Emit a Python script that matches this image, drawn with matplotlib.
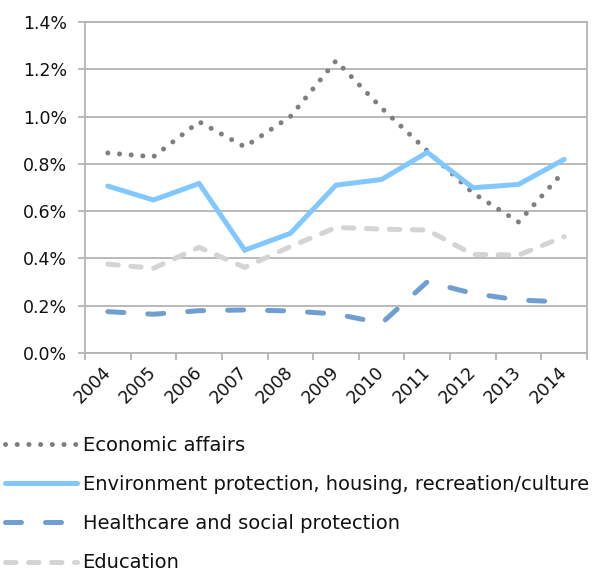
import matplotlib
matplotlib.use("Agg")
import matplotlib.pyplot as plt
from matplotlib.ticker import FixedLocator, FuncFormatter

years = ["2004", "2005", "2006", "2007", "2008", "2009", "2010", "2011", "2012", "2013", "2014"]
economic = [0.846, 0.830, 0.978, 0.872, 1.000, 1.236, 1.036, 0.855, 0.677, 0.554, 0.770]
environment = [0.706, 0.647, 0.717, 0.435, 0.506, 0.710, 0.734, 0.849, 0.699, 0.713, 0.819]
healthcare = [0.175, 0.164, 0.179, 0.182, 0.178, 0.165, 0.126, 0.301, 0.252, 0.224, 0.216]
education = [0.376, 0.358, 0.447, 0.362, 0.450, 0.531, 0.524, 0.520, 0.417, 0.414, 0.492]
labels = ["Economic affairs", "Environment protection, housing, recreation/culture",
          "Healthcare and social protection", "Education"]

plt.rcParams['font.family'] = ['DejaVu Sans']
fig = plt.figure(figsize=(5.94, 5.71), dpi=100)
ax = fig.add_axes([85/594, 1-353/571, (587-85)/594, (353-22)/571])

x = list(range(len(years)))
l1, = ax.plot(x, economic, color='#7f7f7f', lw=3.6, linestyle=(0, (0.01, 2.33)),
              dash_capstyle='round', solid_capstyle='round')
l2, = ax.plot(x, environment, color='#80c8ff', lw=3.6, solid_joinstyle='miter',
              solid_capstyle='round')
l3, = ax.plot(x, healthcare, color='#6f9fd2', lw=3.6, linestyle=(0, (3.2, 4.8)),
              dash_capstyle='round')
l4, = ax.plot(x, education, color='#d4d4d4', lw=3.6, linestyle=(0, (2.1, 2.5)),
              dash_capstyle='round')

ax.set_xlim(-0.5, len(years) - 0.5)
ax.set_ylim(0, 1.4)
ax.set_yticks([0, 0.2, 0.4, 0.6, 0.8, 1.0, 1.2, 1.4])
ax.yaxis.set_major_formatter(FuncFormatter(lambda v, p: f"{v:.1f}%"))
ax.set_xticks(x)
ax.set_xticklabels(years, rotation=45, ha='right', va='center', rotation_mode='anchor')
ax.xaxis.set_minor_locator(FixedLocator([i - 0.5 for i in range(len(years) + 1)]))
ax.tick_params(axis='x', which='major', length=0, pad=12, labelsize=12.5, labelcolor='#111111')
ax.tick_params(axis='x', which='minor', length=5, width=1.3, color='#b4b4b4')
ax.tick_params(axis='y', which='major', length=5, width=1.3, color='#b4b4b4',
               labelsize=12.5, pad=8, labelcolor='#111111')
ax.grid(axis='y', color='#b4b4b4', lw=1.3)
ax.set_axisbelow(True)
for s in ax.spines.values():
    s.set_color('#b4b4b4')
    s.set_linewidth(1.3)

leg = fig.legend([l1, l2, l3, l4], labels, loc='upper left', bbox_to_anchor=(0.008, 0.236),
                 frameon=False, fontsize=14, handlelength=3.7, handletextpad=0.3,
                 labelspacing=1.03, borderaxespad=0, borderpad=0)
for t in leg.get_texts():
    t.set_color('#111111')

fig.savefig("out.png", dpi=100)
